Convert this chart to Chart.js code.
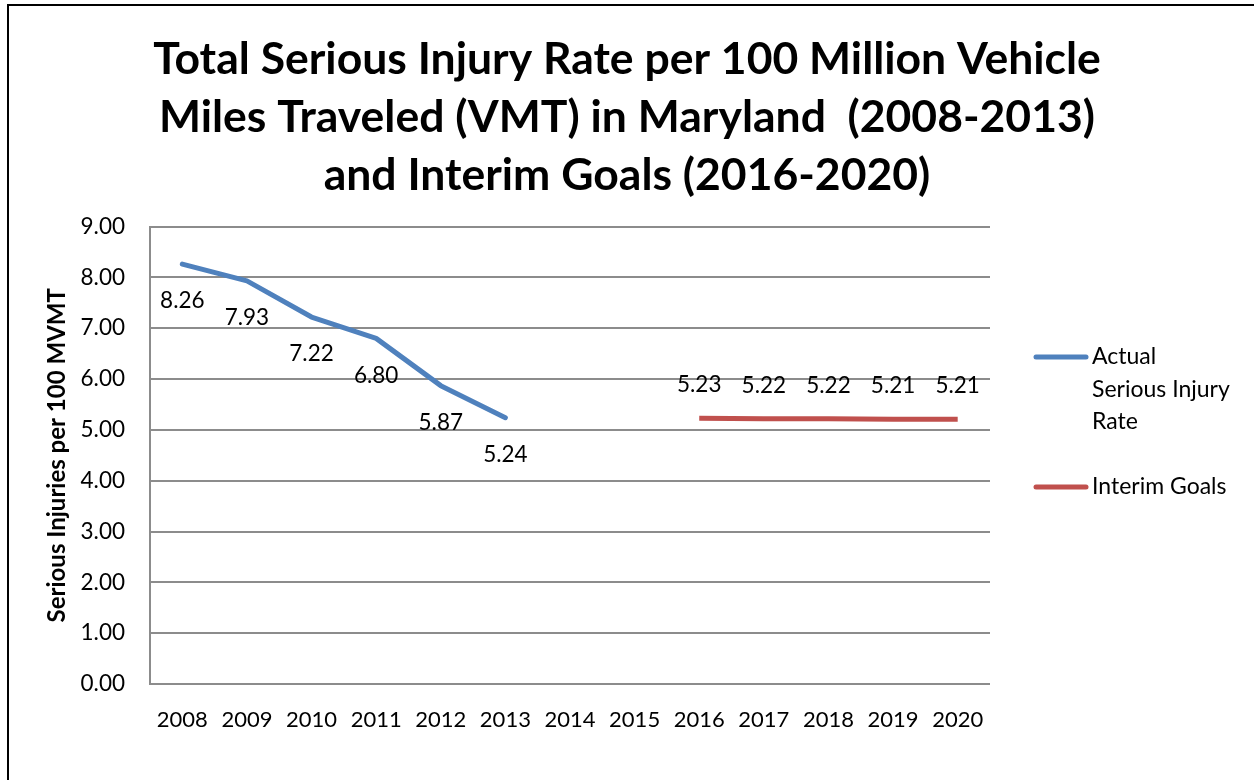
<!DOCTYPE html>
<html><head><meta charset="utf-8">
<script src="https://cdn.jsdelivr.net/npm/chart.js@4/dist/chart.umd.min.js"></script>
<style>
html,body{margin:0;padding:0;background:#fff;}
#wrap{position:relative;width:1254px;height:780px;overflow:hidden;}
#frame{position:absolute;left:7px;top:4px;width:1300px;height:900px;border-left:2px solid #000;border-top:2px solid #000;box-sizing:border-box;pointer-events:none;}
canvas{position:absolute;left:0;top:0;}
</style></head>
<body><div id="wrap"><canvas id="c" width="1254" height="780"></canvas><div id="frame"></div></div>
<script>
const categories = ['2008','2009','2010','2011','2012','2013','2014','2015','2016','2017','2018','2019','2020'];
const actualRate = [8.26, 7.93, 7.22, 6.80, 5.87, 5.24, null, null, null, null, null, null, null];
const interimGoals = [null, null, null, null, null, null, null, null, 5.23, 5.22, 5.22, 5.21, 5.21];
const yTicks = [0,1,2,3,4,5,6,7,8,9];
const titleLines = ['Total Serious Injury Rate per 100 Million Vehicle','Miles Traveled (VMT) in Maryland  (2008-2013)','and Interim Goals (2016-2020)'];
const yTitle = 'Serious Injuries per 100 MVMT';
const legendTexts = [['Actual','Serious Injury','Rate'], ['Interim Goals']];

const FONT = 'Lato, "Open Sans", sans-serif';

const valueLabels = {
  id: 'valueLabels',
  afterDatasetsDraw(chart) {
    const ctx = chart.ctx;
    ctx.save();
    ctx.font = '22.5px ' + FONT;
    ctx.fillStyle = '#000';
    ctx.textAlign = 'center';
    ctx.textBaseline = 'middle';
    chart.data.datasets.forEach((ds, i) => {
      const meta = chart.getDatasetMeta(i);
      meta.data.forEach((pt, j) => {
        const v = ds.data[j];
        if (v === null || v === undefined) return;
        const dy = ds.labelPos === 'below' ? 37 : -33;
        ctx.fillText(v.toFixed(2), pt.x, pt.y + dy);
      });
    });
    ctx.restore();
  }
};

const sideLegend = {
  id: 'sideLegend',
  afterDraw(chart) {
    const ctx = chart.ctx;
    ctx.save();
    ctx.font = '23px ' + FONT;
    ctx.fillStyle = '#000';
    ctx.textAlign = 'left';
    ctx.textBaseline = 'middle';
    const x0 = 1036, x1 = 1086, tx = 1092;
    const ys = [357, 487];
    chart.data.datasets.forEach((ds, i) => {
      const y = ys[i];
      ctx.strokeStyle = ds.borderColor;
      ctx.lineWidth = 5;
      ctx.lineCap = 'round';
      ctx.beginPath(); ctx.moveTo(x0, y); ctx.lineTo(x1, y); ctx.stroke();
      legendTexts[i].forEach((t, k) => ctx.fillText(t, tx, y + k * 32.5));
    });
    ctx.restore();
  }
};

new Chart(document.getElementById('c'), {
  type: 'line',
  data: {
    labels: categories,
    datasets: [
      { label: 'Actual Serious Injury Rate', data: actualRate, borderColor: '#4F81BD', backgroundColor: '#4F81BD', borderWidth: 5, pointRadius: 0, tension: 0, spanGaps: false, labelPos: 'below', borderCapStyle: 'round', borderJoinStyle: 'round' },
      { label: 'Interim Goals', data: interimGoals, borderColor: '#C0504D', backgroundColor: '#C0504D', borderWidth: 5, pointRadius: 0, tension: 0, spanGaps: false, labelPos: 'above', borderCapStyle: 'butt' }
    ]
  },
  options: {
    responsive: false,
    animation: false,
    layout: { padding: 0 },
    plugins: {
      legend: { display: false },
      tooltip: { enabled: false },
      title: {
        display: true,
        text: titleLines,
        color: '#000',
        font: { family: FONT, size: 44.5, weight: 'bold', lineHeight: 1.3 },
        padding: { top: 31, bottom: 22 },
        align: 'center'
      }
    },
    scales: {
      x: {
        offset: true,
        grid: { display: false, drawTicks: false },
        border: { display: false },
        ticks: { color: '#000', font: { family: FONT, size: 22 }, padding: 23, maxRotation: 0, autoSkip: false },
        afterFit(s) { s.height = 96; }
      },
      y: {
        min: 0, max: 9,
        afterBuildTicks(s) { s.ticks = yTicks.map(v => ({ value: v })); },
        grid: { color: '#8c8c8c', lineWidth: 2, drawTicks: false },
        border: { display: true, color: '#8c8c8c', width: 2 },
        ticks: { color: '#000', font: { family: FONT, size: 22.5 }, padding: 25, callback: v => Number(v).toFixed(2) },
        title: { display: true, text: yTitle, color: '#000', font: { family: FONT, size: 24, weight: 'bold', lineHeight: 1.2 }, padding: { top: 43, bottom: 0 } },
        afterFit(s) { s.width = 150; }
      },
      legendSpace: {
        position: 'right',
        display: true,
        min: 0, max: 1,
        grid: { display: false, drawTicks: false },
        border: { display: false },
        ticks: { display: false },
        afterFit(s) { s.width = 264; }
      }
    }
  },
  plugins: [valueLabels, sideLegend]
});
</script>
</body></html>
